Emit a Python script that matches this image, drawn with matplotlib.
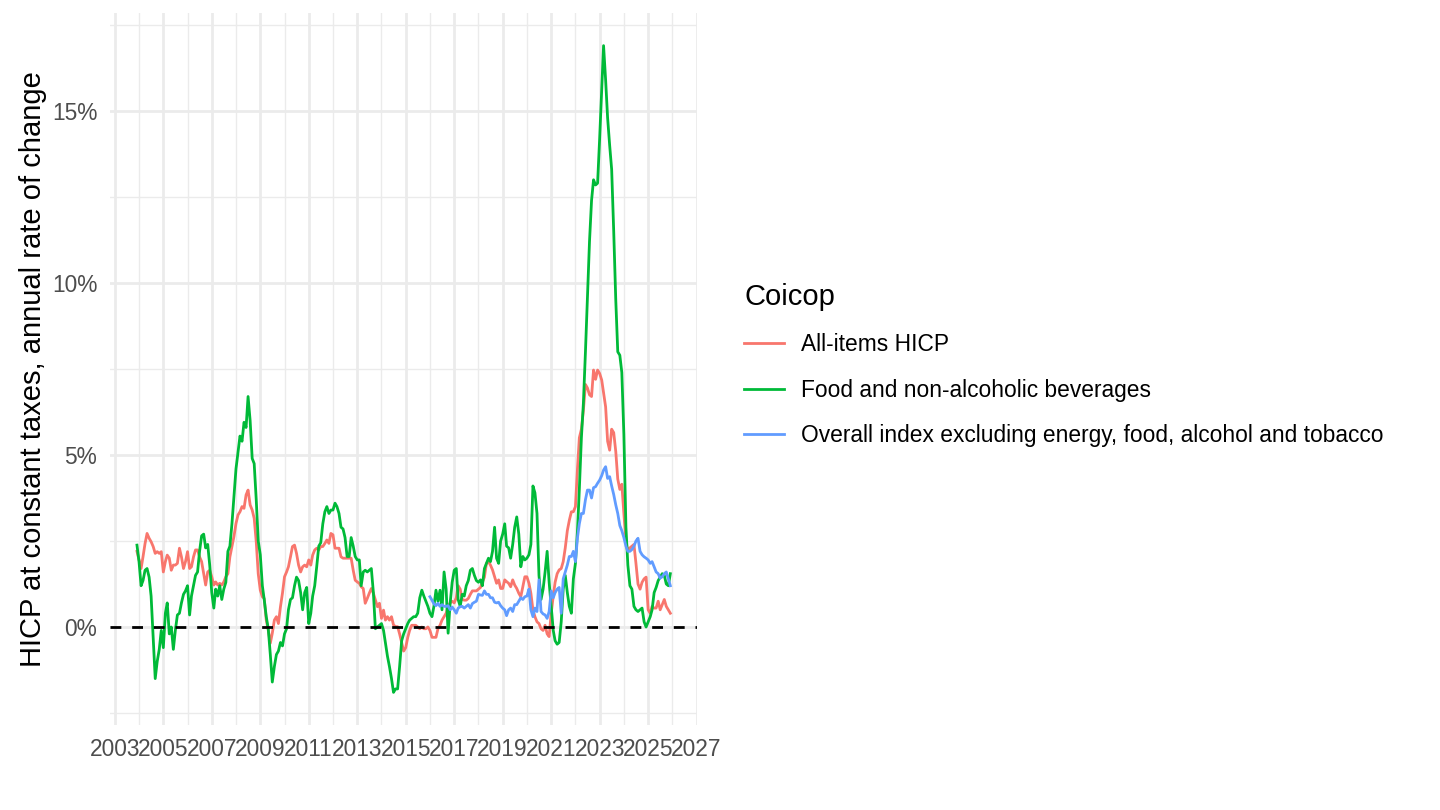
import matplotlib
matplotlib.use("Agg")
import matplotlib.pyplot as plt
import matplotlib.dates as mdates
from matplotlib.lines import Line2D
from matplotlib.ticker import FixedLocator, FuncFormatter
import pandas as pd
import datetime as dt

plt.rcParams['font.family'] = ['Liberation Sans', 'DejaVu Sans']

# monthly, Dec 2003 .. Dec 2025
months = pd.date_range('2003-12-01', '2025-12-01', freq='MS')
core_months = pd.date_range('2016-01-01', '2025-12-01', freq='MS')

all_items = [
    2.2,
    1.95, 1.7, 2.04, 2.43, 2.72, 2.58, 2.48, 2.34, 2.14, 2.19, 2.14, 2.19,
    1.6, 1.9, 2.09, 2.0, 1.65, 1.8, 1.8, 1.85, 2.29, 2.04, 1.7, 1.9,
    2.19, 1.7, 1.75, 2.04, 2.24, 2.24, 2.04, 1.9, 1.55, 1.22, 1.6, 1.65,
    1.46, 1.22, 1.31, 1.22, 1.27, 1.22, 1.31, 1.46, 1.55, 2.04, 2.34, 2.63,
    3.01, 3.26, 3.35, 3.5, 3.45, 3.84, 3.98, 3.55, 3.4, 3.16, 2.48, 1.55,
    1.07, 0.88, 0.83, 0.2, -0.09, -0.47, -0.18, 0.2, 0.3, 0.1, 0.59, 0.98,
    1.46, 1.6, 1.75, 2.04, 2.34, 2.38, 2.14, 1.8, 1.6, 1.75, 1.8, 1.75,
    1.95, 1.8, 2.09, 2.24, 2.29, 2.24, 2.34, 2.34, 2.43, 2.53, 2.43, 2.72,
    2.68, 2.29, 2.29, 2.29, 2.04, 2.0, 2.0, 2.0, 2.0, 2.0, 1.65, 1.36,
    1.31, 1.27, 1.17, 1.12, 0.69, 0.83, 0.98, 1.12, 0.98, 0.79, 0.59, 0.69,
    0.25, 0.49, 0.2, 0.3, 0.2, 0.3, 0.06, 0.01, 0.01, -0.2, -0.45, -0.7,
    -0.6, -0.3, -0.1, 0.05, 0.05, 0.05, 0.0, -0.05, 0.0, -0.05, -0.05, 0.0,
    -0.1, -0.3, -0.3, -0.3, -0.05, 0.05, 0.2, 0.3, 0.4, 0.6, 0.7, 0.75,
    0.7, 0.85, 1.2, 1.1, 0.8, 0.78, 0.78, 0.83, 0.95, 1.05, 1.05, 1.05,
    1.1, 1.15, 1.3, 1.45, 1.85, 1.9, 1.8, 1.66, 1.46, 1.27, 1.37, 1.12,
    1.12, 1.37, 1.32, 1.27, 1.17, 1.37, 1.22, 1.12, 0.98, 0.88, 1.17, 1.46,
    1.46, 1.27, 0.98, 0.5, 0.3, 0.15, 0.1, -0.05, -0.1, 0.05, -0.2, -0.28,
    0.4, 0.9, 1.3, 1.55, 1.66, 1.7, 1.9, 2.3, 2.8, 3.1, 3.35, 3.35,
    3.5, 4.6, 5.5, 5.75, 6.3, 7.05, 6.95, 6.75, 6.7, 7.47, 7.2, 7.47,
    7.37, 7.18, 6.8, 6.4, 5.4, 5.14, 5.75, 5.65, 5.1, 4.3, 4.0, 4.15,
    3.3, 2.5, 2.2, 2.3, 2.35, 2.4, 1.85, 1.25, 1.1, 1.3, 1.4, 1.45,
    0.5, 0.4, 0.6, 0.55, 0.55, 0.75, 0.5, 0.65, 0.8, 0.6, 0.5, 0.4,
]

food = [
    2.38,
    1.9, 1.2, 1.35, 1.65, 1.7, 1.45, 0.9, -0.3, -1.5, -1.0, -0.65, -0.1,
    -0.6, 0.4, 0.7, -0.2, 0.0, -0.65, -0.1, 0.35, 0.4, 0.7, 0.95, 1.05,
    1.2, 0.35, 0.9, 1.2, 1.5, 1.6, 2.2, 2.65, 2.7, 2.3, 2.4, 1.8,
    1.0, 0.55, 1.1, 0.9, 1.2, 0.8, 1.1, 1.3, 2.2, 2.35, 3.0, 3.8,
    4.6, 5.1, 5.55, 5.4, 5.95, 5.8, 6.7, 6.0, 4.9, 4.75, 3.7, 2.5,
    2.1, 1.2, 0.8, 0.3, -0.05, -0.8, -1.6, -1.15, -0.8, -0.7, -0.45, -0.55,
    -0.2, -0.05, 0.5, 0.8, 0.85, 1.2, 1.45, 1.35, 1.0, 0.5, 1.0, 1.15,
    0.1, 0.4, 0.9, 1.2, 1.75, 2.35, 2.45, 3.0, 3.35, 3.5, 3.3, 3.4,
    3.4, 3.6, 3.5, 3.3, 2.9, 2.85, 2.6, 2.05, 2.05, 2.6, 2.35, 2.05,
    1.95, 1.95, 1.2, 1.6, 1.65, 1.6, 1.65, 1.7, 1.0, -0.05, 0.0, 0.05,
    0.1, -0.1, -0.45, -0.85, -1.15, -1.5, -1.9, -1.8, -1.8, -1.15, -0.4, -0.2,
    -0.05, 0.1, 0.2, 0.25, 0.3, 0.3, 0.4, 0.85, 1.07, 0.9, 0.75, 0.6,
    0.4, 0.3, 0.6, 1.07, 0.75, 1.07, 0.5, 1.6, 1.1, -0.18, 0.7, 1.3,
    1.65, 1.7, 0.8, 0.6, 0.95, 0.9, 1.2, 1.35, 1.65, 1.7, 1.5, 1.35,
    1.3, 1.37, 1.2, 1.7, 1.85, 2.0, 1.9, 2.2, 2.9, 2.0, 1.85, 2.5,
    2.7, 3.0, 2.35, 2.3, 2.0, 2.4, 2.9, 3.2, 2.7, 1.75, 2.05, 1.95,
    2.0, 2.1, 2.4, 4.1, 3.9, 3.3, 1.5, 0.8, 1.1, 1.6, 2.2, 1.3,
    0.6, -0.1, -0.4, -0.5, -0.45, 0.15, 1.1, 1.5, 1.0, 0.6, 0.4, 1.4,
    1.85, 2.8, 4.0, 5.5, 6.5, 8.0, 9.6, 11.2, 12.4, 13.0, 12.85, 12.9,
    14.2, 15.6, 16.9, 15.9, 14.8, 14.0, 13.3, 11.5, 9.5, 8.0, 7.9, 7.4,
    5.6, 2.9, 1.8, 1.2, 1.1, 0.6, 0.5, 0.45, 0.5, 0.55, 0.15, 0.0,
    0.15, 0.3, 0.5, 1.0, 1.15, 1.35, 1.45, 1.55, 1.5, 1.25, 1.2, 1.55,
]

core = [
    0.88, 0.78, 0.67, 0.62, 0.69, 0.6, 0.65, 0.6, 0.6, 0.62, 0.5, 0.58,
    0.5, 0.4, 0.55, 0.59, 0.6, 0.55, 0.6, 0.65, 0.55, 0.68, 0.72, 0.75,
    0.95, 0.93, 0.92, 1.05, 0.95, 0.95, 0.85, 0.85, 0.72, 0.7, 0.72, 0.62,
    0.55, 0.5, 0.33, 0.5, 0.55, 0.45, 0.65, 0.65, 0.75, 0.85, 0.8, 0.88,
    0.9, 1.1, 0.5, 0.3, 0.55, 0.45, 1.37, 0.45, 0.38, 0.35, 0.25, 0.45,
    1.05, 0.85, 1.0, 1.1, 1.15, 0.4, 1.4, 1.6, 1.8, 2.05, 2.05, 2.2,
    1.9, 2.6, 3.0, 3.3, 3.3, 3.7, 3.98, 3.98, 3.75, 4.05, 4.08, 4.18,
    4.27, 4.4, 4.56, 4.66, 4.32, 4.37, 4.1, 3.85, 3.55, 3.3, 2.95, 2.8,
    2.6, 2.35, 2.2, 2.2, 2.25, 2.35, 2.5, 2.58, 2.2, 2.1, 2.04, 2.0,
    1.95, 1.85, 1.9, 1.75, 1.6, 1.55, 1.42, 1.46, 1.55, 1.6, 1.4, 1.2,
]

series_names = ["All-items HICP", "Food and non-alcoholic beverages",
                "Overall index excluding energy, food, alcohol and tobacco"]
colors = ["#F8766D", "#00BA38", "#619CFF"]
year_labels = list(range(2003, 2028, 2))

fig = plt.figure(figsize=(14.4, 8.1), dpi=100)
ax = fig.add_axes([110.3 / 1440, 1 - 724.7 / 810, 586.7 / 1440, 711.4 / 810])

ax.plot(months, all_items, color=colors[0], lw=2.0, zorder=3)
ax.plot(months, food, color=colors[1], lw=2.0, zorder=4)
ax.plot(core_months, core, color=colors[2], lw=2.0, zorder=5)
ax.axhline(0, color="black", lw=2.0, linestyle=(0, (3.9, 3.9)), zorder=6)

# ggplot-like 5% expansion
lo, hi = months[0], months[-1]
span = hi - lo
ax.set_xlim(lo - 0.05 * span, hi + 0.05 * span)
vals = all_items + food + core
ymin, ymax = min(vals), max(vals)
pad = 0.05 * (ymax - ymin)
ax.set_ylim(ymin - pad, ymax + pad)

ax.xaxis.set_major_locator(FixedLocator([mdates.date2num(dt.datetime(y, 1, 1)) for y in year_labels]))
ax.xaxis.set_minor_locator(FixedLocator([mdates.date2num(dt.datetime(y, 1, 1)) for y in range(2004, 2027, 2)]))
ax.xaxis.set_major_formatter(FuncFormatter(lambda v, p: str(mdates.num2date(v).year)))
ax.yaxis.set_major_locator(FixedLocator([0, 5, 10, 15]))
ax.yaxis.set_minor_locator(FixedLocator([-2.5, 2.5, 7.5, 12.5, 17.5]))
ax.yaxis.set_major_formatter(FuncFormatter(lambda v, p: f"{v:.0f}%"))

ax.grid(which="major", color="#EBEBEB", lw=2.0)
ax.grid(which="minor", color="#EBEBEB", lw=1.0)
ax.set_axisbelow(True)
for s in ax.spines.values():
    s.set_visible(False)
ax.tick_params(which="both", length=0, pad=9.4, labelsize=16.4, labelcolor="#4D4D4D")

ax.set_ylabel("HICP at constant taxes, annual rate of change", fontsize=21, color="black")
ax.yaxis.set_label_coords(-0.108, 0.5)

handles = [Line2D([0], [0], color=c, lw=2.0) for c in colors]
leg = fig.legend(handles, series_names, loc="upper left",
                 bbox_to_anchor=(744 / 1440, 1 - 283 / 810),
                 frameon=False, fontsize=16.4, title="Coicop", title_fontsize=21,
                 handlelength=1.75, handletextpad=0.75, labelspacing=0.98,
                 borderpad=0, borderaxespad=0, alignment="left")

fig.savefig("out.png", dpi=100)
